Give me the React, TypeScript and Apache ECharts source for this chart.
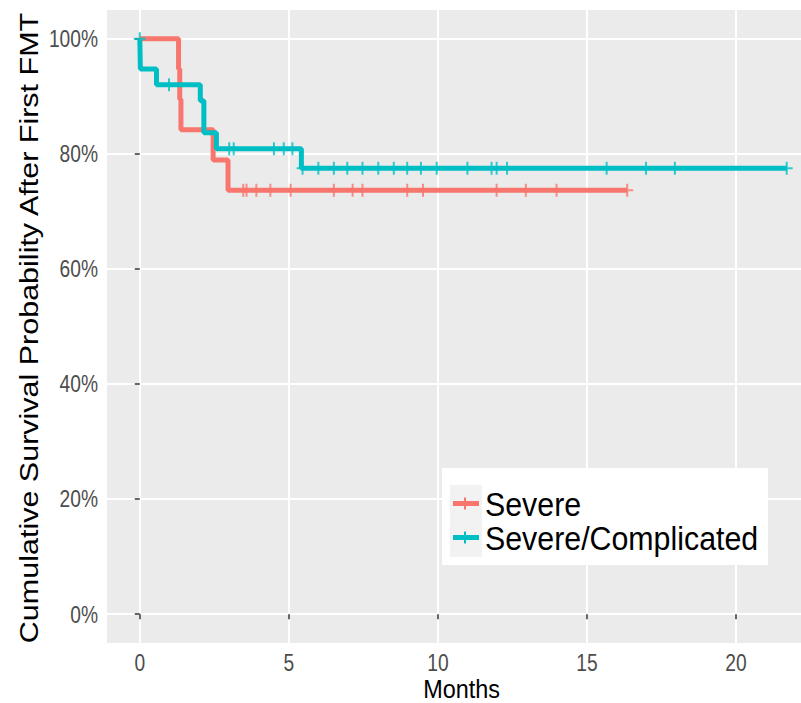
import React, { useEffect, useRef } from "react";
import * as echarts from "echarts";

const xTicks = [0, 5, 10, 15, 20];
const yTicks = [0, 20, 40, 60, 80, 100];
const groupNames = ["Severe", "Severe/Complicated"];
const groupColors = ["#F8766D", "#00BFC4"];

// Kaplan-Meier steps: [months, survival %]
const severeSteps: [number, number][] = [
  [0, 100], [1.3, 94.74], [1.34, 89.47], [1.38, 84.21], [2.46, 78.95], [2.96, 73.68], [16.35, 73.68],
];
const severeCensor = [3.47, 3.58, 3.91, 4.38, 5.06, 6.51, 7.14, 7.47, 8.97, 9.5, 11.97, 12.95, 13.98, 16.35];

const complicatedSteps: [number, number][] = [
  [0, 100], [0.02, 94.74], [0.56, 92.03], [2.03, 89.24], [2.15, 83.66], [2.57, 80.87], [5.42, 77.5], [21.7, 77.5],
];
const complicatedCensor = [
  0, 0.98, 3.0, 3.15, 4.5, 4.83, 5.12, 5.46, 5.99, 6.51, 6.96, 7.47, 8.0, 8.52, 8.97, 9.43, 9.96, 10.99,
  11.8, 11.97, 12.32, 15.66, 16.98, 17.95, 21.7,
];

function survAt(steps: [number, number][], t: number): number {
  let v = steps[0][1];
  for (const s of steps) {
    if (s[0] <= t) v = s[1];
  }
  return v;
}

const plusPath = "path://M-1,-6H1V-1H6V1H1V6H-1V1H-6V-1H-1Z";
const FONT = "'Liberation Sans', Arial, sans-serif";

export default function App() {
  const ref = useRef<HTMLDivElement>(null);
  useEffect(() => {
    if (!ref.current) return;
    const chart = echarts.init(ref.current, undefined, { renderer: "svg" });
    const stepsList = [severeSteps, complicatedSteps];
    const censorList = [severeCensor, complicatedCensor];
    const lineSeries = stepsList.map((steps, i) => ({
      type: "line",
      name: groupNames[i],
      step: "end",
      data: steps,
      symbol: "none",
      lineStyle: { color: groupColors[i], width: 5 },
      z: 2 + i,
    }));
    const censorSeries = censorList.map((cs, i) => ({
      type: "scatter",
      name: groupNames[i] + " censored",
      data: cs.map((t) => [t, survAt(stepsList[i], t)]),
      symbol: plusPath,
      symbolSize: [12, 13],
      itemStyle: { color: groupColors[i] },
      z: 5,
    }));
    chart.setOption({
      animation: false,
      backgroundColor: "#FFFFFF",
      grid: {
        left: 107, top: 10, right: 0, bottom: 60,
        outerBoundsMode: "none",
        containLabel: false,
        show: true, backgroundColor: "#EBEBEB", borderWidth: 0,
      },
      xAxis: {
        type: "value",
        min: -1.1,
        max: 22.18,
        axisLine: { show: false },
        axisTick: { show: true, customValues: xTicks, length: 5, lineStyle: { color: "#333333", width: 1.5 } },
        axisLabel: { show: false, customValues: xTicks },
        splitLine: { show: true, lineStyle: { color: "#FFFFFF", width: 2 } },
      },
      yAxis: {
        type: "value",
        min: -5,
        max: 105,
        axisLine: { show: false },
        axisTick: { show: true, customValues: yTicks, length: 5, lineStyle: { color: "#333333", width: 1.5 } },
        axisLabel: { show: false, customValues: yTicks },
        splitLine: { show: true, lineStyle: { color: "#FFFFFF", width: 2 } },
      },
      series: [...lineSeries, ...censorSeries],
    });

    // Tick labels placed through the chart's own scales (condensed look via scaleX)
    const xLabelEls = xTicks.map((v) => {
      const p = chart.convertToPixel({ gridIndex: 0 }, [v, -5]) as number[];
      return {
        type: "text",
        x: p[0],
        y: p[1] + 8,
        scaleX: 0.8,
        style: { text: String(v), fill: "#4D4D4D", fontSize: 24, fontFamily: FONT, align: "center", verticalAlign: "top" },
      };
    });
    const yLabelEls = yTicks.map((v) => {
      const p = chart.convertToPixel({ gridIndex: 0 }, [-1.1, v]) as number[];
      return {
        type: "text",
        x: p[0] - 9,
        y: p[1],
        scaleX: 0.8,
        style: { text: v + "%", fill: "#4D4D4D", fontSize: 24, fontFamily: FONT, align: "right", verticalAlign: "middle" },
      };
    });

    chart.setOption({
      graphic: [
        ...xLabelEls,
        ...yLabelEls,
        {
          type: "text",
          x: 461.5,
          y: 689,
          scaleX: 0.9,
          style: { text: "Months", fill: "#000000", fontSize: 26, fontFamily: FONT, align: "center", verticalAlign: "middle" },
        },
        {
          type: "text",
          x: 29,
          y: 328,
          rotation: Math.PI / 2,
          scaleY: 0.85,
          style: {
            text: "Cumulative Survival Probability After First FMT",
            fill: "#000000",
            fontSize: 30.5,
            fontFamily: FONT,
            align: "center",
            verticalAlign: "middle",
          },
        },
        {
          type: "group",
          x: 442,
          y: 468,
          children: [
            { type: "rect", shape: { x: 0, y: 0, width: 326, height: 97 }, style: { fill: "#FFFFFF" } },
            { type: "rect", shape: { x: 8, y: 17, width: 32, height: 72 }, style: { fill: "#F2F2F2" } },
            ...groupNames.flatMap((name, i) => {
              const cy = 35.5 + i * 34;
              return [
                { type: "line", shape: { x1: 11, y1: cy, x2: 37, y2: cy }, style: { stroke: groupColors[i], lineWidth: 5 } },
                { type: "line", shape: { x1: 23, y1: cy - 6, x2: 23, y2: cy + 6 }, style: { stroke: groupColors[i], lineWidth: 2 } },
                {
                  type: "text",
                  x: 43,
                  y: cy + 1,
                  scaleX: 0.92,
                  style: { text: name, fill: "#000000", fontSize: 33, fontFamily: FONT, verticalAlign: "middle" },
                },
              ];
            }),
          ],
        },
      ],
    });
    return () => chart.dispose();
  }, []);
  return <div ref={ref} style={{ position: "fixed", left: 0, top: 0, width: 801, height: 703 }} />;
}
